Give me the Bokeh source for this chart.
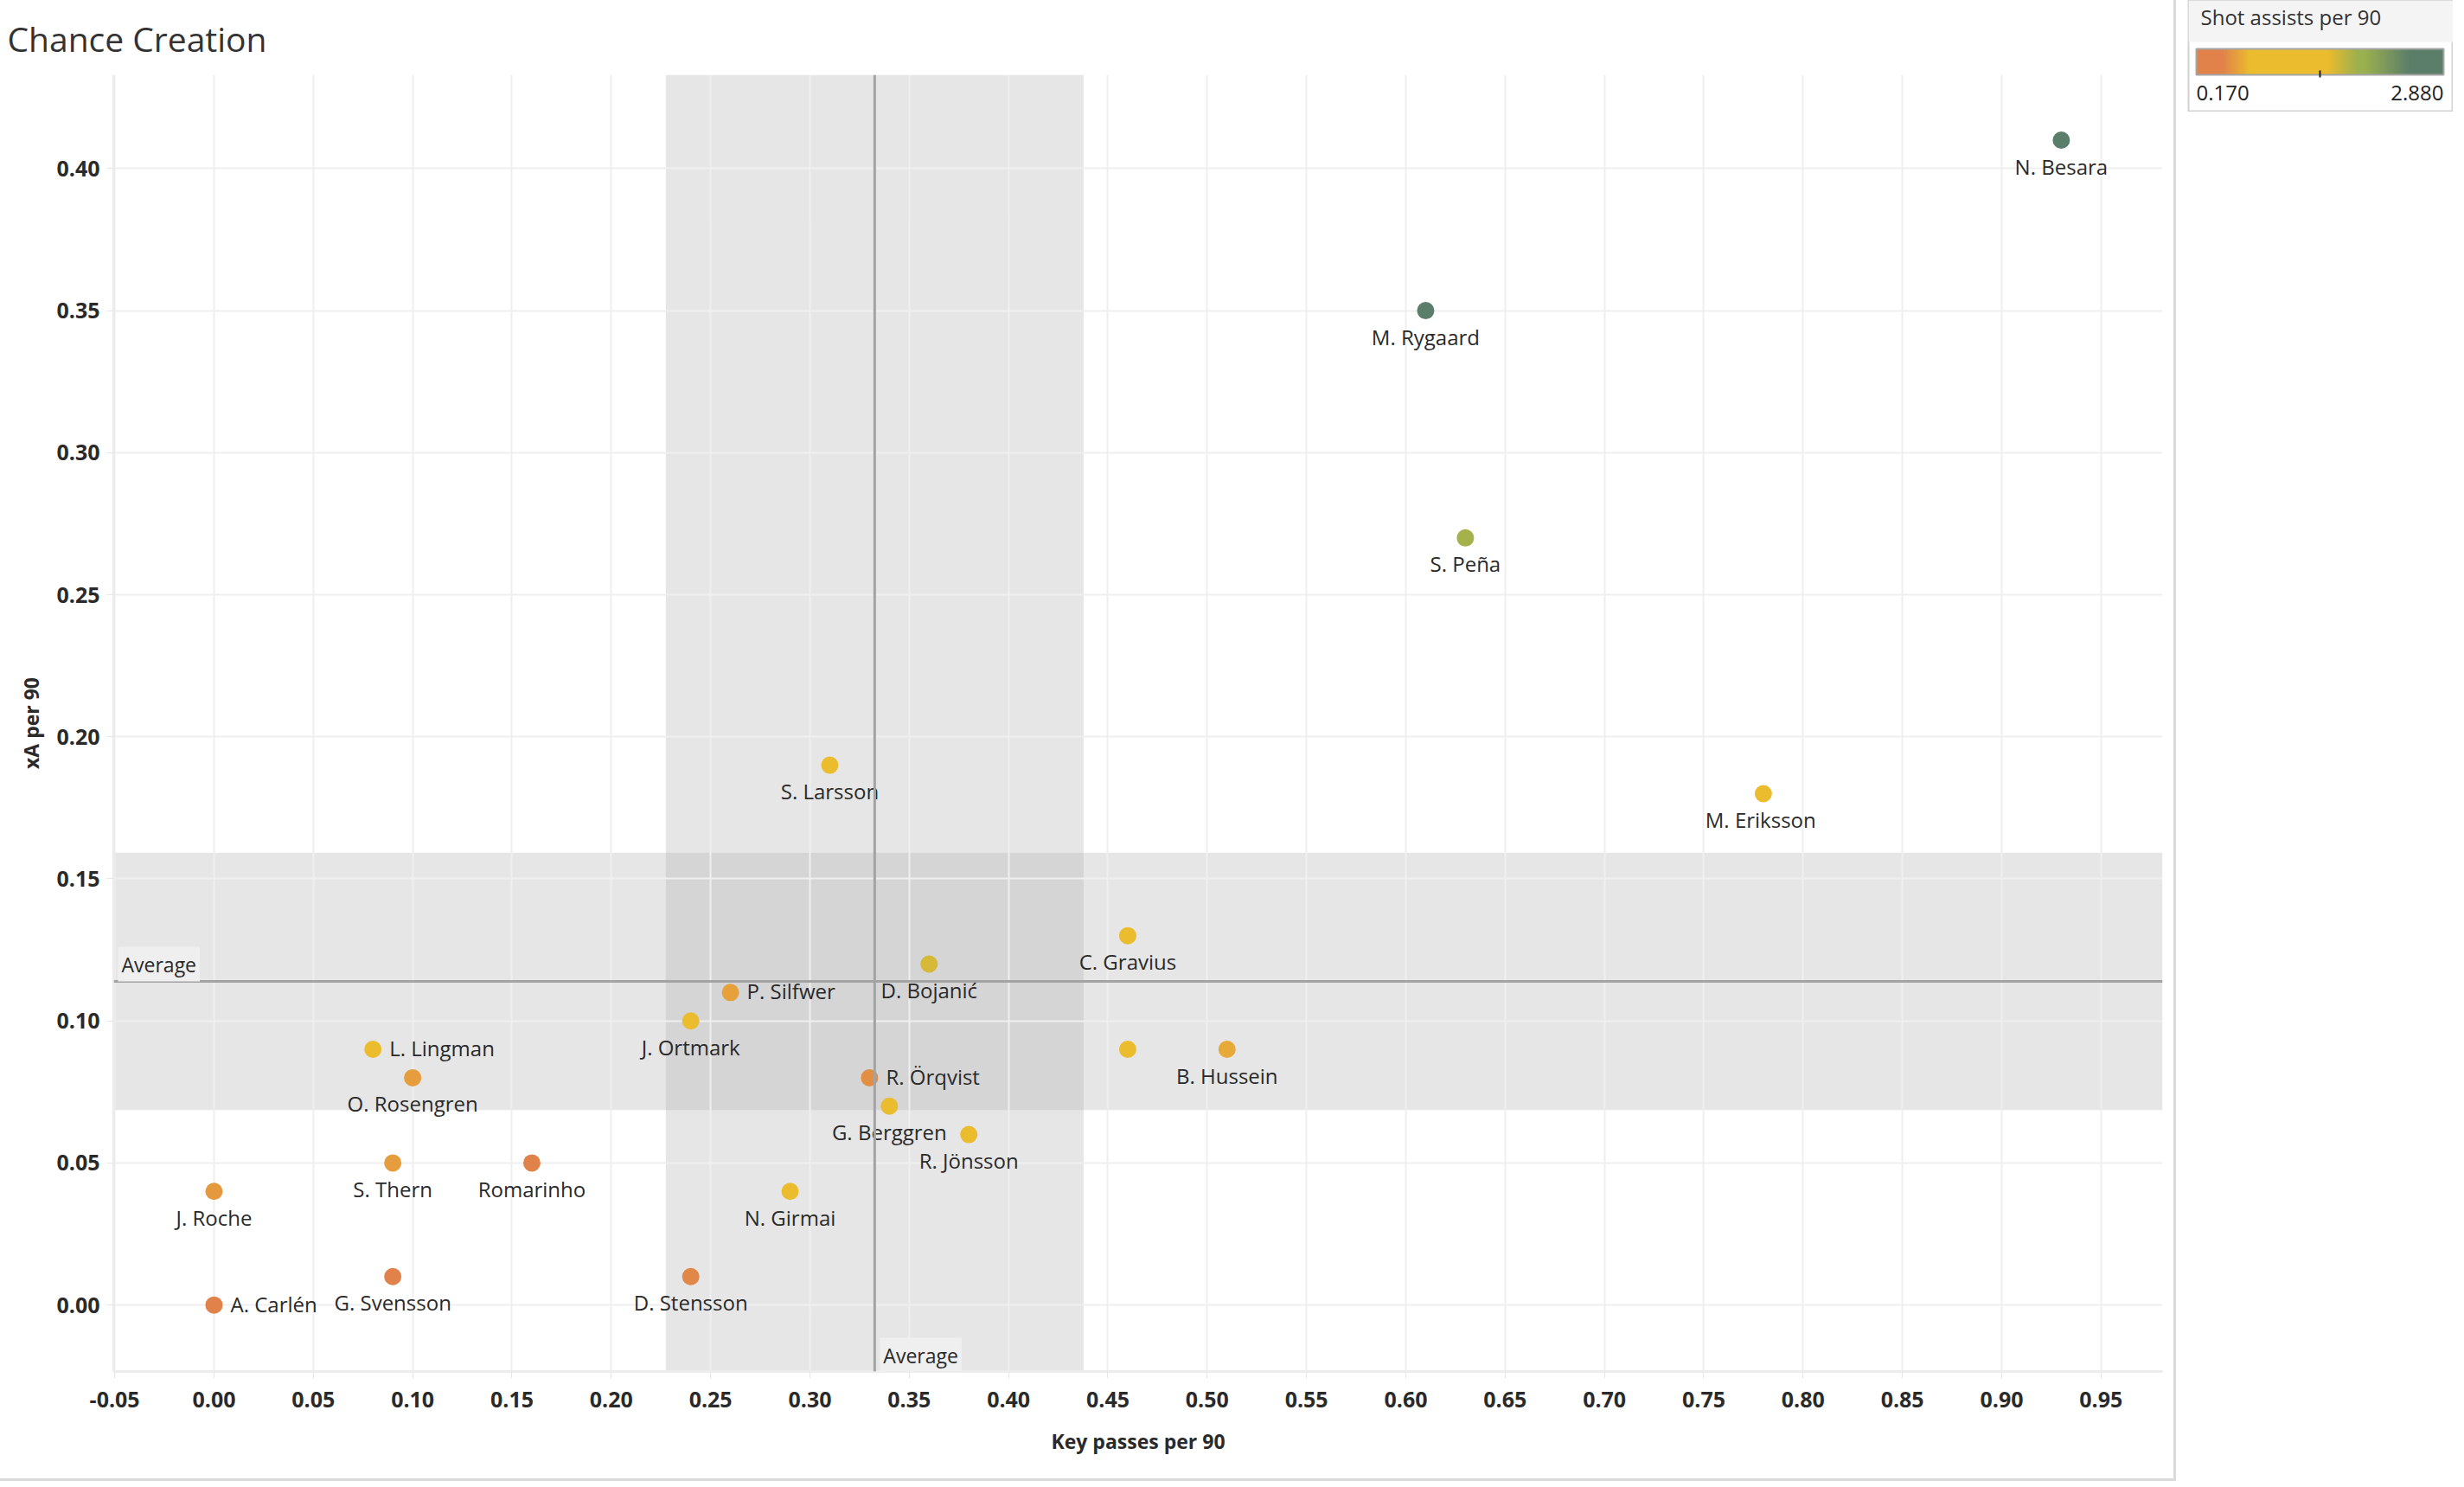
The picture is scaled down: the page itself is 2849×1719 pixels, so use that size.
import numpy as np
from bokeh.plotting import figure
from bokeh.models import (ColumnDataSource, Range1d, FixedTicker, NumeralTickFormatter,
                          LinearColorMapper, Span, Label)
from bokeh.transform import transform
from bokeh.core.properties import value
from bokeh.layouts import row
from bokeh.embed import file_html
from bokeh.resources import INLINE

# ---------------- data ----------------
players = ["N. Besara", "M. Rygaard", "S. Peña", "S. Larsson", "M.  Eriksson",
           "C. Gravius", "D. Bojanić", "P. Silfwer", "J. Ortmark", "L. Lingman",
           "O. Rosengren", "", "B. Hussein", "R. Örqvist", "G. Berggren",
           "R. Jönsson", "S. Thern", "Romarinho", "J. Roche", "N. Girmai",
           "G. Svensson", "D. Stensson", "A. Carlén"]
key_passes_per90 = [0.93, 0.61, 0.63, 0.31, 0.78,
                    0.46, 0.36, 0.26, 0.24, 0.08,
                    0.10, 0.46, 0.51, 0.33, 0.34,
                    0.38, 0.09, 0.16, 0.00, 0.29,
                    0.09, 0.24, 0.00]
xa_per90 = [0.41, 0.35, 0.27, 0.19, 0.18,
            0.13, 0.12, 0.11, 0.10, 0.09,
            0.08, 0.09, 0.09, 0.08, 0.07,
            0.06, 0.05, 0.05, 0.04, 0.04,
            0.01, 0.01, 0.00]
shot_assists_per90 = [2.88, 2.62, 1.90, 1.05, 1.20,
                      1.10, 1.70, 0.62, 0.95, 0.95,
                      0.60, 1.05, 0.66, 0.52, 0.92,
                      1.00, 0.60, 0.30, 0.58, 0.88,
                      0.34, 0.48, 0.17]
x_ticks = [-0.05, 0.00, 0.05, 0.10, 0.15, 0.20, 0.25, 0.30, 0.35, 0.40, 0.45,
           0.50, 0.55, 0.60, 0.65, 0.70, 0.75, 0.80, 0.85, 0.90, 0.95]
y_ticks = [0.00, 0.05, 0.10, 0.15, 0.20, 0.25, 0.30, 0.35, 0.40]
T_CRIT_95 = 2.074  # t critical value, df = n - 1 = 22

# label placement (style): names whose label sits to the right of the mark
right_labelled = {"P. Silfwer", "L. Lingman", "R. Örqvist", "A. Carlén"}

# ---------------- style ----------------
FONT = "Open Sans"
TEXT = "#2a2a2a"
PALETTE_STOPS = [(0.0, "#E0824A"), (0.105, "#E0824A"), (0.216, "#EBBC2E"),
                 (0.53, "#EBBC2E"), (0.655, "#9BB04F"), (0.68, "#9BB04F"),
                 (0.865, "#5B7E6A"), (1.0, "#5B7E6A")]


def build_palette(stops, n=256):
    pos = [s[0] for s in stops]
    rgb = np.array([[int(c[i:i + 2], 16) for i in (1, 3, 5)] for _, c in stops], float)
    t = np.linspace(0, 1, n)
    chans = [np.interp(t, pos, rgb[:, k]) for k in range(3)]
    return ["#%02x%02x%02x" % (int(round(r)), int(round(g)), int(round(b)))
            for r, g, b in zip(*chans)]


palette = build_palette(PALETTE_STOPS)
vmin, vmax = min(shot_assists_per90), max(shot_assists_per90)
mapper = LinearColorMapper(palette=palette, low=vmin, high=vmax)

# statistics for reference lines / bands
kx = np.array(key_passes_per90)
ya = np.array(xa_per90)
n = len(kx)
mean_x, mean_y = kx.mean(), ya.mean()
ci_x = T_CRIT_95 * kx.std(ddof=1) / np.sqrt(n)
ci_y = T_CRIT_95 * ya.std(ddof=1) / np.sqrt(n)

# ---------------- main figure ----------------
W, H = 2516, 1712
FL, FT, FR, FB = 131, 85, 2500, 1585  # frame edges in figure pixels
x_range = Range1d(-0.0505, 0.981)
y_range = Range1d(-0.0234, 0.433)

p = figure(width=W, height=H, x_range=x_range, y_range=y_range,
           output_backend="svg", toolbar_location=None,
           min_border_left=FL, min_border_top=FT,
           min_border_right=W - FR, min_border_bottom=H - FB)
p.frame_align = False
p.background_fill_color = "white"
p.border_fill_color = "white"
p.outline_line_color = None
p.styles = {"border-right": "3px solid #DADADA", "border-bottom": "3px solid #DADADA"}

p.title.text = "Chance Creation"
p.title.align = "left"
p.title.offset = 8 - FL
p.title.standoff = 31
p.title.text_font = FONT
p.title.text_font_size = "39px"
p.title.text_font_style = "normal"
p.title.text_color = "#333333"

# confidence bands
bx = p.quad(left=mean_x - ci_x, right=mean_x + ci_x, bottom=y_range.start, top=y_range.end,
            fill_color="#B1B1B1", fill_alpha=0.32, line_color=None)
by = p.quad(left=x_range.start, right=x_range.end, bottom=mean_y - ci_y, top=mean_y + ci_y,
            fill_color="#B1B1B1", fill_alpha=0.32, line_color=None)
bx.level = "image"
by.level = "image"

# axes and grids
for ax, ticks in ((p.xaxis[0], x_ticks), (p.yaxis[0], y_ticks)):
    ax.ticker = FixedTicker(ticks=ticks)
    ax.formatter = NumeralTickFormatter(format="0.00")
    ax.axis_line_color = "#ECECEC"
    ax.axis_line_width = 3
    ax.major_tick_line_color = "#E6E6E6"
    ax.major_tick_in = 0
    ax.major_tick_out = 8
    ax.minor_tick_line_color = None
    ax.major_label_text_font = FONT
    ax.major_label_text_font_size = "25px"
    ax.major_label_text_font_style = "bold"
    ax.major_label_text_color = TEXT
    ax.axis_label_text_font = FONT
    ax.axis_label_text_font_size = "23px"
    ax.axis_label_text_font_style = "bold"
    ax.axis_label_text_color = TEXT

p.xaxis.axis_label = "Key passes per 90"
p.yaxis.axis_label = "xA per 90"
p.xaxis.major_label_standoff = 15
p.yaxis.major_label_standoff = 8
p.xaxis.axis_label_standoff = 20
p.yaxis.axis_label_standoff = 10

p.xgrid.ticker = FixedTicker(ticks=x_ticks)
p.ygrid.ticker = FixedTicker(ticks=y_ticks)
for g in (p.xgrid[0], p.ygrid[0]):
    g.grid_line_color = "#EFEFEF"
    g.grid_line_width = 2

# points
src = ColumnDataSource(dict(
    x=key_passes_per90, y=xa_per90, sa=shot_assists_per90, label=players,
    xo=[19 if nm in right_labelled else 0 for nm in players],
    yo=[-1.5 if nm in right_labelled else 30 for nm in players],
    align=["left" if nm in right_labelled else "center" for nm in players],
))
p.scatter("x", "y", source=src, size=20, fill_color=transform("sa", mapper),
          line_color=None)
p.text(x="x", y="y", text="label", source=src, x_offset="xo", y_offset="yo",
       text_align="align", text_baseline="alphabetic", text_font=value(FONT),
       text_font_size="24px", text_color=TEXT)

# average lines
p.add_layout(Span(location=mean_x, dimension="height", line_color="#A3A3A3", line_width=3))
p.add_layout(Span(location=mean_y, dimension="width", line_color="#A3A3A3", line_width=3))

avg_style = dict(text="Average", text_font=FONT, text_font_size="23px", text_color=TEXT,
                 text_align="left", text_baseline="alphabetic",
                 background_fill_color="#EFEFEF", background_fill_alpha=1.0, padding=4)
p.add_layout(Label(x=0, x_units="screen", y=mean_y, x_offset=5, y_offset=20, **avg_style))
p.add_layout(Label(x=mean_x, y=0, y_units="screen", x_offset=6, y_offset=19, **avg_style))

# ---------------- colour legend ----------------
LH, LW, LPAD = 129, 306, 14
span = vmax - vmin
upp = span / 286.0
lx0, lx1 = vmin - 9 * upp, vmax + 11 * upp
lf = figure(title=None, width=LPAD + LW, height=LH,
            x_range=Range1d(lx0, lx1), y_range=Range1d(0, LH),
            output_backend="svg", toolbar_location=None, x_axis_type=None, y_axis_type=None,
            min_border_left=LPAD, min_border_right=0, min_border_top=0, min_border_bottom=0)
lf.frame_align = False
lf.grid.visible = False
lf.background_fill_color = "white"
lf.border_fill_color = "white"
lf.outline_line_color = "#D2D2D2"
lf.outline_line_width = 2

lf.quad(left=lx0, right=lx1, bottom=LH - 48, top=LH, fill_color="#F4F4F4", line_color=None)
grad = np.linspace(vmin, vmax, 512).reshape(1, -1)
lf.image(image=[grad], x=vmin, y=LH - 86, dw=span, dh=30, color_mapper=mapper)
lf.quad(left=vmin, right=vmax, bottom=LH - 86, top=LH - 56, fill_color=None,
        line_color="#A6A6A6", line_width=2)
mid = (vmin + vmax) / 2
lf.segment(x0=mid, x1=mid, y0=LH - 89, y1=LH - 81, line_color="#222222", line_width=2)
lf.add_layout(Label(x=14, x_units="screen", y=LH - 28, y_offset=9, text="Shot assists per 90",
                    text_font=FONT, text_font_size="24px", text_color="#333333",
                    text_baseline="alphabetic"))
lf.add_layout(Label(x=vmin, y=LH - 116, y_offset=9, text=f"{vmin:.3f}", text_font=FONT,
                    text_font_size="24px", text_color="#222222", text_align="left",
                    text_baseline="alphabetic"))
lf.add_layout(Label(x=vmax, y=LH - 116, y_offset=9, text=f"{vmax:.3f}", text_font=FONT,
                    text_font_size="24px", text_color="#222222", text_align="right",
                    text_baseline="alphabetic"))

layout = row(p, lf)
open("out.html", "w").write(file_html(layout, INLINE))
